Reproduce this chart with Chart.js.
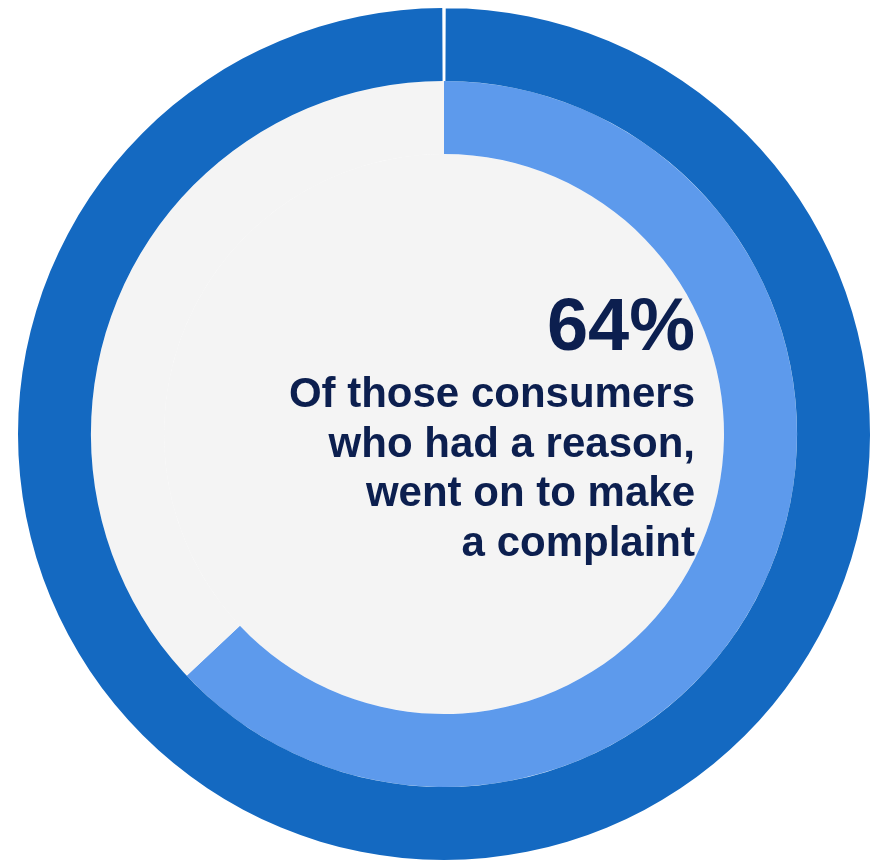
<!DOCTYPE html>
<html>
<head>
<meta charset="utf-8">
<script src="https://cdn.jsdelivr.net/npm/chart.js@4"></script>
<style>
  html, body { margin: 0; padding: 0; background: #ffffff; }
  body { width: 881px; height: 862px; position: relative; overflow: hidden; }
  #wrap { position: absolute; left: 18px; top: 8px; width: 852px; height: 852px; }
  .txt { position: absolute; right: 186px; text-align: right; color: #0c1f4f;
         font-family: "Liberation Sans", Arial, Helvetica, sans-serif; font-weight: bold; white-space: nowrap; }
  #pct { top: 288px; font-size: 74px; line-height: 74px; }
  #desc { top: 368px; font-size: 42px; line-height: 49.7px; }
</style>
</head>
<body>
<div id="wrap"><canvas id="c" width="852" height="852"></canvas></div>
<div id="pct" class="txt">64%</div>
<div id="desc" class="txt">Of those consumers<br>who had a reason,<br>went on to make<br>a complaint</div>
<script>
// Data (arc: the light-blue arc ends at ~227 degrees)
const categories = ['Went on to make a complaint', 'Did not make a complaint'];
const complaintValues = [63, 37];
const reasonValues = [100];   // all consumers who had a reason (outer ring)
const centerValues = [100];   // centre disc

const darkBlue = '#1469c1';
const lightBlue = '#5d9aec';
const grey = '#f4f4f4';

new Chart(document.getElementById('c'), {
  type: 'doughnut',
  data: {
    labels: categories,
    datasets: [
      { data: reasonValues, backgroundColor: [darkBlue], borderWidth: 0, hoverBorderWidth: 0, spacing: 1, weight: 73 },
      { data: complaintValues, backgroundColor: [lightBlue, grey], borderWidth: 0, hoverBorderWidth: 0, weight: 73 },
      { data: centerValues, backgroundColor: [grey], borderWidth: 0, hoverBorderWidth: 0, weight: 280 }
    ]
  },
  options: {
    responsive: false,
    animation: false,
    cutout: 0,
    rotation: 0,
    layout: { padding: 0 },
    events: [],
    plugins: { legend: { display: false }, tooltip: { enabled: false } }
  }
});
</script>
</body>
</html>
